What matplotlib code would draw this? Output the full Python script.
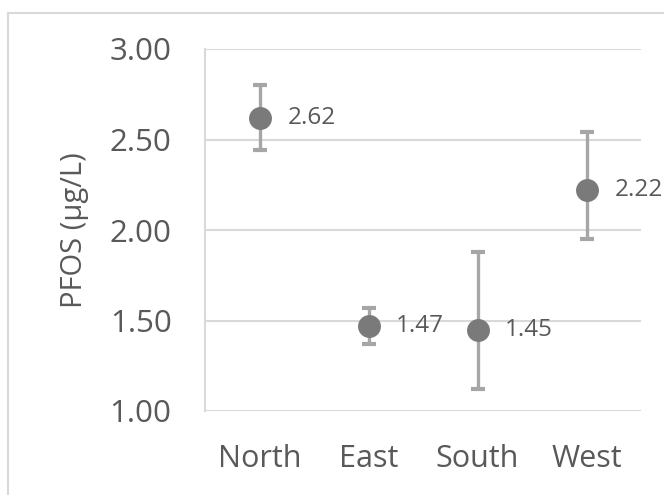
import matplotlib
matplotlib.use("Agg")
import matplotlib.pyplot as plt
from matplotlib.lines import Line2D

categories = ["North", "East", "South", "West"]
means = [2.62, 1.47, 1.45, 2.22]
err_low = [2.44, 1.37, 1.12, 1.95]
err_high = [2.80, 1.57, 1.88, 2.54]
value_labels = ["2.62", "1.47", "1.45", "2.22"]
yticks = [1.00, 1.50, 2.00, 2.50, 3.00]

plt.rcParams['font.family'] = ['Open Sans', 'DejaVu Sans']

fig = plt.figure(figsize=(6.64, 4.95), dpi=100)
ax = fig.add_axes([205/664, 1-411/495, 436/664, 362/495])

x = list(range(len(categories)))
lower = [m - l for m, l in zip(means, err_low)]
upper = [h - m for m, h in zip(means, err_high)]
ax.errorbar(x, means, yerr=[lower, upper], fmt='none', ecolor='#a6a6a6',
            elinewidth=2.4, capsize=5, capthick=3, zorder=2)
ax.plot(x, means, 'o', color='#7a7a7a', markersize=16.5, zorder=3, markeredgewidth=0)

for xi, m, lab in zip(x, means, value_labels):
    ax.annotate(lab, (xi, m), xytext=(20, 0), textcoords='offset points',
                va='center', ha='left', fontsize=17.5, color='#595959',
                annotation_clip=False)

ax.set_xlim(-0.5, 3.5)
ax.set_ylim(1.0, 3.0)
ax.set_yticks(yticks)
ax.set_yticklabels([f"{t:.2f}" for t in yticks])
ax.set_xticks(x)
ax.set_xticklabels(categories)
ax.tick_params(axis='y', length=0, pad=24, labelsize=22.5, labelcolor='#595959')
ax.tick_params(axis='x', length=0, pad=24, labelsize=22, labelcolor='#595959')
ax.yaxis.grid(True, color='#d9d9d9', linewidth=1.5)
ax.set_axisbelow(True)
for s in ['top', 'right', 'bottom']:
    ax.spines[s].set_visible(False)
ax.spines['left'].set_color('#d9d9d9')
ax.spines['left'].set_linewidth(1.5)

ax.set_ylabel("PFOS (µg/L)", fontsize=21, color='#595959')
ax.yaxis.set_label_coords(-0.265, 0.5)

# outer chart border
fig.add_artist(Line2D([8/664, 8/664], [0, 1-13/495], transform=fig.transFigure,
                      color='#d9d9d9', linewidth=1.5))
fig.add_artist(Line2D([8/664, 1], [1-13/495, 1-13/495], transform=fig.transFigure,
                      color='#d9d9d9', linewidth=1.5))

fig.savefig("out.png", dpi=100)
